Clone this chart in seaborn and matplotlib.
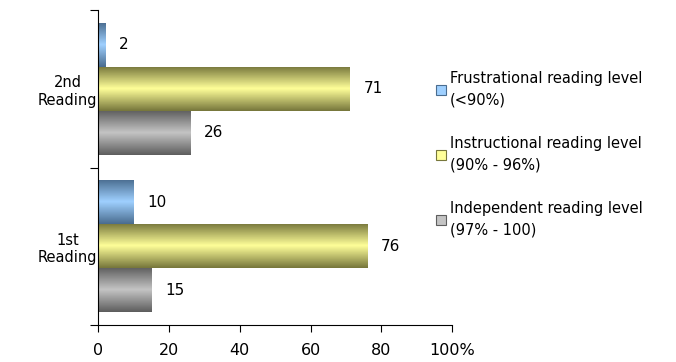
import numpy as np
import pandas as pd
import matplotlib
matplotlib.use("Agg")
import matplotlib.pyplot as plt
from matplotlib.colors import LinearSegmentedColormap
from matplotlib.patches import Patch
import seaborn as sns

readings = ["2nd Reading", "1st Reading"]
reading_labels = ["2nd\nReading", "1st\nReading"]
levels = ["Frustrational reading level\n(<90%)",
          "Instructional reading level\n(90% - 96%)",
          "Independent reading level\n(97% - 100)"]
frustrational = [2, 10]
instructional = [71, 76]
independent = [26, 15]
x_ticks = [0, 20, 40, 60, 80, 100]
x_ticklabels = ["0", "20", "40", "60", "80", "100%"]

# edge colour / centre colour for the shaded bars
shades = [("#4a6d90", "#9fd0ff"), ("#77773c", "#ffff99"), ("#5e5e5e", "#c4c4c4")]

df = pd.DataFrame({
    "reading": readings * 3,
    "level": [levels[0]] * 2 + [levels[1]] * 2 + [levels[2]] * 2,
    "value": frustrational + instructional + independent,
})

sns.set_style("white")
plt.rcParams["font.family"] = ["DejaVu Sans"]
plt.rcParams["text.color"] = "black"
plt.rcParams["xtick.color"] = "black"
plt.rcParams["ytick.color"] = "black"

fig = plt.figure(figsize=(6.76, 3.62), dpi=100)
ax = fig.add_axes([0.145, 0.102, 0.524, 0.870])

palette = [mid for _, mid in shades]
sns.barplot(data=df, y="reading", x="value", hue="level", order=readings,
            hue_order=levels, palette=palette, width=0.84, gap=0,
            orient="h", ax=ax, legend=False)

# gradient fill clipped to each bar
grad = np.linspace(0, 1, 64)
grad = np.abs(grad - 0.5) * 2
grad = grad[:, None]
for cont, (edge, mid) in zip(ax.containers, shades):
    cmap = LinearSegmentedColormap.from_list("g", [mid, edge])
    for p in cont.patches:
        x0, y0 = p.get_x(), p.get_y()
        w, h = p.get_width(), p.get_height()
        im = ax.imshow(grad, cmap=cmap, aspect="auto", vmin=0, vmax=1,
                       extent=[x0, x0 + w, y0 + h, y0], zorder=p.get_zorder() + 0.1)
        im.set_clip_path(p)
        p.set_edgecolor("none")
    ax.bar_label(cont, padding=10, fontsize=11)

ax.set_xlim(0, 100)
ax.set_ylim(1.5, -0.5)
ax.set_xticks(x_ticks)
ax.set_xticklabels(x_ticklabels, fontsize=11.5)
ax.set_yticks([0, 1])
ax.set_yticklabels(reading_labels, fontsize=10.5, ha="center")
ax.tick_params(axis="y", length=0, pad=22)
ax.set_yticks([-0.5, 0.5, 1.5], minor=True)
ax.tick_params(axis="y", which="minor", length=6, width=0.8, direction="out", left=True)
ax.tick_params(axis="x", length=5, width=0.8, direction="out", bottom=True, pad=8)
ax.set_xlabel("")
ax.set_ylabel("")
sns.despine(ax=ax)
for s in ["left", "bottom"]:
    ax.spines[s].set_color("black")
    ax.spines[s].set_linewidth(0.8)

handles = [Patch(facecolor=mid, edgecolor=edge, linewidth=0.8) for edge, mid in shades]
leg = fig.legend(handles, levels, loc="upper left", bbox_to_anchor=(0.625, 0.84),
                 frameon=False, fontsize=10.5, handlelength=0.7, handleheight=0.7,
                 handletextpad=0.3, labelspacing=2.0)
for t in leg.get_texts():
    t.set_linespacing(1.5)

fig.savefig("out.png", dpi=100)
